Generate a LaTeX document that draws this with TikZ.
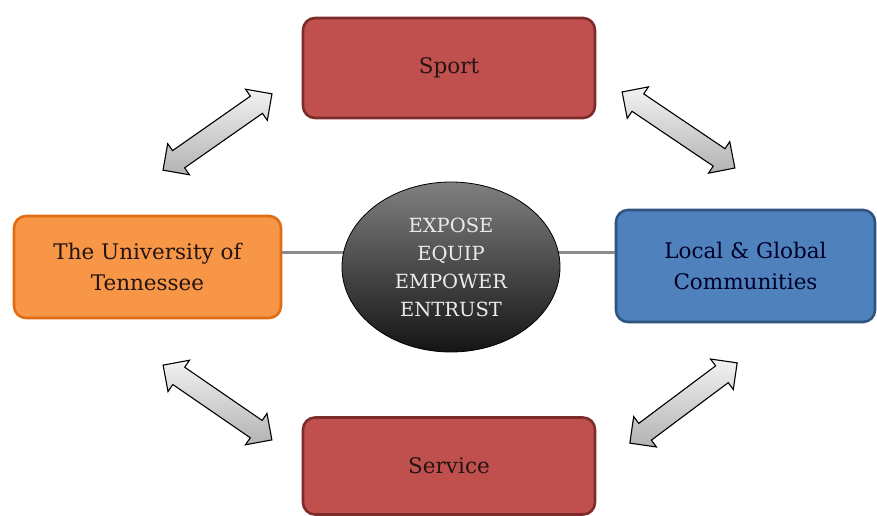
\documentclass[tikz,border=0pt]{standalone}
\usepackage{fontspec}
\setmainfont{DejaVu Serif}
\usetikzlibrary{shapes.geometric}
\definecolor{sportred}{HTML}{C0504D}
\definecolor{sportedge}{HTML}{7D2C2A}
\definecolor{uorange}{HTML}{F79646}
\definecolor{uedge}{HTML}{E06C14}
\definecolor{commblue}{HTML}{4F81BD}
\definecolor{commedge}{HTML}{2F5480}
\definecolor{linkgray}{HTML}{8C8C8C}
\definecolor{inktext}{HTML}{241414}
\tikzset{
  x=1pt, y=-1pt,
  box/.style={rectangle, rounded corners=12pt, line width=2.6pt, align=center,
    font=\fontsize{21.5}{31}\selectfont, text=inktext, inner sep=0pt},
  redbox/.style={box, fill=sportred, draw=sportedge},
  orangebox/.style={box, fill=uorange, draw=uedge},
  bluebox/.style={box, fill=commblue, draw=commedge, text=black!85!blue},
  hub/.style={ellipse, draw=black, line width=0.8pt, top color=black!50,
    bottom color=black!92, align=center, text=white!92!black,
    font=\fontsize{19.5}{28}\selectfont, inner sep=0pt},
  link/.style={draw=linkgray, line width=3pt},
  % two-way block arrow lying along the local x axis, half length #1
  pics/twoway/.style={code={
    \draw[draw=black, line width=1.1pt, line join=miter,
          top color=black!5, bottom color=black!30]
      (-#1,0) -- (-#1+19,-19) -- (-#1+19,-10.5) -- (#1-19,-10.5) -- (#1-19,-19)
      -- (#1,0) -- (#1-19,19) -- (#1-19,10.5) -- (-#1+19,10.5) -- (-#1+19,19) -- cycle;
  }}
}
\begin{document}
\begin{tikzpicture}
\useasboundingbox (0,0) rectangle (877,516);
\fill[white] (0,0) rectangle (877,516);

% outer nodes
\node[redbox, minimum width=292pt, minimum height=100pt] (sport) at (449,68) {Sport};
\node[redbox, minimum width=292pt, minimum height=97pt] (service) at (449,466) {Service};
\node[orangebox, minimum width=267pt, minimum height=102pt] (ut) at (147.5,267) {The University of\\Tennessee};
\node[bluebox, minimum width=259pt, minimum height=112pt] (comm) at (745.5,266) {Local \& Global\\Communities};

% horizontal link through the hub
\coordinate (linky) at (0,252);
\draw[link] (ut.east |- linky) -- (comm.west |- linky);

% central hub
\node[hub, minimum width=218pt, minimum height=170pt] (core) at (451,267)
  {EXPOSE\\EQUIP\\EMPOWER\\ENTRUST};

% two-way block arrows
\pic[rotate=35] (arrTL) at (217.5,132) {twoway=66.5};
\pic[rotate=-34] (arrTR) at (678.5,130) {twoway=68};
\pic[rotate=-34.5] (arrBL) at (217.5,402.5) {twoway=66};
\pic[rotate=36.8] (arrBR) at (683.5,403) {twoway=67};
\end{tikzpicture}
\end{document}
